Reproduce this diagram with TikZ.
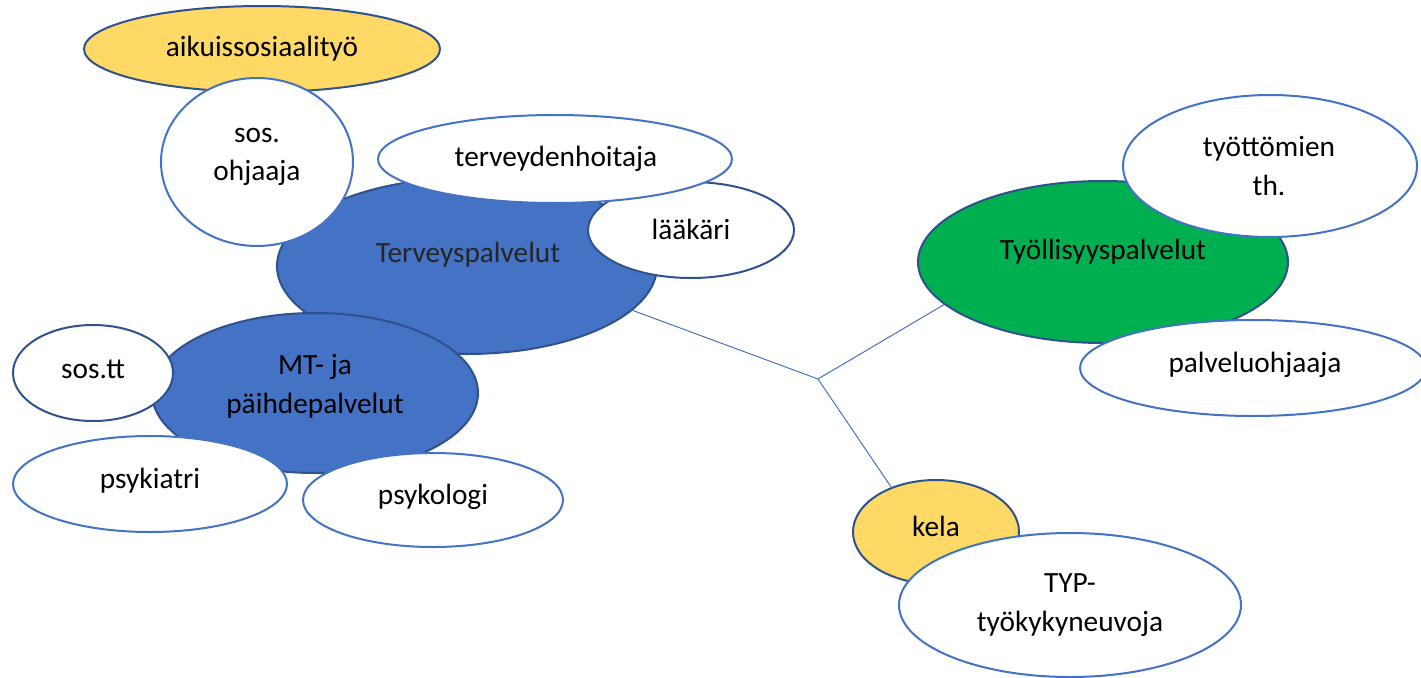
\documentclass[tikz,border=0pt]{standalone}
\usepackage{fontspec}
\setmainfont{Carlito}
\usetikzlibrary{shapes.geometric}
\definecolor{bluefill}{HTML}{4472C4}
\definecolor{darkline}{HTML}{2F528F}
\definecolor{lightline}{HTML}{4472C4}
\definecolor{greenfill}{HTML}{00B050}
\definecolor{yellowfill}{HTML}{FFD966}
\definecolor{graytext}{HTML}{262626}
\tikzset{
  blobshape/.style={ellipse, inner sep=0pt, line width=1.5pt},
  mainblue/.style={blobshape, fill=bluefill, draw=darkline},
  maingreen/.style={blobshape, fill=greenfill, draw=darkline},
  yellowblob/.style={blobshape, fill=yellowfill, draw=darkline},
  whitelight/.style={blobshape, fill=white, draw=lightline},
  whitedark/.style={blobshape, fill=white, draw=darkline},
  lbl/.style={inner sep=0pt, align=center, font=\fontsize{22}{29}\selectfont},
  link/.style={draw=lightline, line width=0.75pt}
}
\newcommand\blob[9]{%
  \node[#6, minimum width={1.5*#4 pt}, minimum height={1.5*#5 pt}] (#1) at (#2,#3) {};
  \node[lbl] (#1t) at (#7,#8) {#9};}
\begin{document}
\begin{tikzpicture}[x=0.75pt,y=-0.75pt]
\useasboundingbox (0,0) rectangle (1421,678);
% left cluster
\blob{aik}{262}{49}{178}{43}{yellowblob}{262}{49}{aikuissosiaalityö}
\blob{ter}{467}{266}{190}{88}{mainblue}{468}{255}{\color{graytext}Terveyspalvelut}
\blob{soh}{257}{162}{96}{84}{whitelight}{257}{157}{sos.\\ohjaaja}
\blob{laa}{691}{230}{103}{48}{whitedark}{691}{229}{lääkäri}
\blob{thj}{555}{159}{177}{44}{whitelight}{556}{159}{terveydenhoitaja}
\blob{mt}{315}{393}{163}{80}{mainblue}{315}{386}{MT- ja\\päihdepalvelut}
\blob{stt}{93}{373}{80}{48}{whitedark}{93}{369}{sos.tt}
\blob{psi}{150}{484}{137}{48}{whitelight}{150}{481}{psykiatri}
\blob{psl}{433}{500}{130}{47}{whitelight}{433}{497}{psykologi}
% right cluster
\blob{tyo}{1103}{262}{185}{81}{maingreen}{1103}{252}{Työllisyyspalvelut}
\blob{tth}{1270}{166}{147}{71}{whitelight}{1269}{166}{työttömien\\th.}
\blob{pvo}{1253}{368}{173}{48}{whitelight}{1255}{365}{palveluohjaaja}
\blob{kel}{936}{532}{83}{52}{yellowblob}{936}{526}{kela}
\blob{typ}{1070}{605}{171}{72}{whitelight}{1070}{605}{TYP-\\työkykyneuvoja}
% connectors
\coordinate (hub) at (818,379);
\draw[link] (hub) -- (ter.345);
\draw[link] (hub) -- (tyo.195);
\draw[link] (hub) -- (kel.135);
\end{tikzpicture}
\end{document}
